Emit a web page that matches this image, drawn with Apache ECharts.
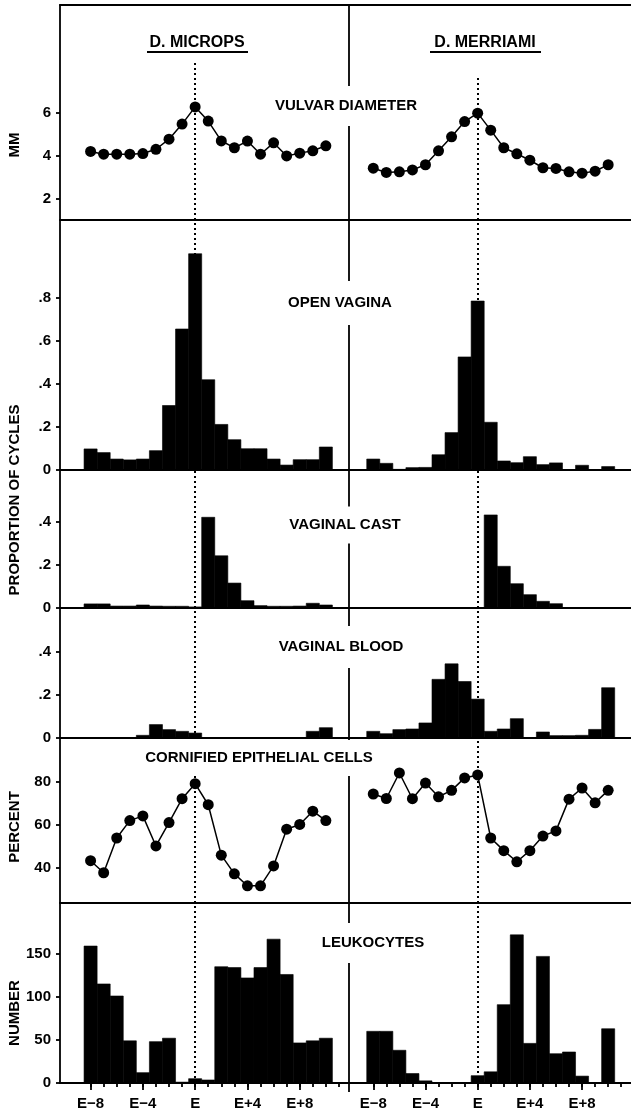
<!DOCTYPE html>
<html><head><meta charset="utf-8">
<script src="https://cdn.jsdelivr.net/npm/echarts@6/dist/echarts.min.js"></script>
<style>html,body{margin:0;padding:0;background:#fff}#c{width:631px;height:1114px}</style>
</head><body><div id="c"></div>
<script>
// ---------- DATA ----------
const days = [-8,-7,-6,-5,-4,-3,-2,-1,0,1,2,3,4,5,6,7,8,9,10];
const xTickDays = [-8,-7,-6,-5,-4,-3,-2,-1,0,1,2,3,4,5,6,7,8,9,10,11];
const xLabelDays = [-8,-4,0,4,8];
const species = ['D. MICROPS','D. MERRIAMI'];
const panelTitles = ['VULVAR DIAMETER','OPEN VAGINA','VAGINAL CAST','VAGINAL BLOOD','CORNIFIED EPITHELIAL CELLS','LEUKOCYTES'];
const axisNames = ['MM','PROPORTION OF CYCLES','PERCENT','NUMBER'];

const vulvarTicks = [2,4,6];
const openTicks = [0,0.2,0.4,0.6,0.8];
const castTicks = [0,0.2,0.4];
const bloodTicks = [0,0.2,0.4];
const cornTicks = [40,60,80];
const leukoTicks = [0,50,100,150];

const vulvarMicrops   = [4.19,4.06,4.06,4.06,4.09,4.29,4.76,5.46,6.26,5.60,4.68,4.36,4.67,4.06,4.59,3.98,4.11,4.22,4.45];
const vulvarMerriami  = [3.41,3.21,3.24,3.33,3.57,4.22,4.87,5.58,5.97,5.18,4.36,4.08,3.78,3.43,3.40,3.24,3.18,3.27,3.57];
const openMicrops     = [0.098,0.081,0.051,0.047,0.051,0.090,0.300,0.656,1.006,0.420,0.212,0.141,0.099,0.099,0.051,0.023,0.048,0.048,0.107];
const openMerriami    = [0.051,0.031,0.003,0.011,0.012,0.071,0.174,0.526,0.786,0.222,0.042,0.034,0.062,0.025,0.033,0,0.022,0,0.016];
const castMicrops     = [0.019,0.019,0.009,0.009,0.014,0.009,0.008,0.008,0.005,0.422,0.243,0.116,0.034,0.011,0.008,0.008,0.009,0.022,0.014];
const castMerriami    = [0,0,0,0,0,0,0,0,0,0.433,0.194,0.113,0.062,0.031,0.020,0,0,0,0];
const bloodMicrops    = [0,0,0,0,0.0125,0.0625,0.039,0.031,0.023,0,0,0,0,0,0,0,0,0.031,0.048];
const bloodMerriami   = [0.031,0.020,0.039,0.042,0.070,0.273,0.345,0.263,0.181,0.031,0.042,0.090,0,0.028,0.011,0.011,0.0125,0.040,0.234];
const cornMicrops     = [43.3,37.7,53.9,62.0,64.2,50.2,61.1,72.2,79.2,69.4,45.9,37.2,31.6,31.6,40.9,58.0,60.2,66.4,62.0];
const cornMerriami    = [74.4,72.3,84.2,72.2,79.5,73.1,76.1,81.9,83.3,53.9,48.0,42.8,48.0,54.8,57.2,72.0,77.2,70.3,76.1];
const leukoMicrops    = [159,115,101,49,12,48,52,1,5,3.5,135,134,122,134,167,126,46.5,49,52];
const leukoMerriami   = [60,60,38,11,2.5,0.5,0.5,0,8.5,13,91,172,46,147,34,36,8,0,63];

// ---------- LAYOUT ----------
const FONT = 'Liberation Sans, Arial, Helvetica, sans-serif';
const cols = [
  {left: 60, width: 289, xmin: -10.34, xmax: 11.77},
  {left: 349, width: 282, xmin: -9.86, xmax: 11.75}
];
const propFmt = v => v === 0 ? '0' : '.' + Math.round(v * 10);
const rows = [
  {top: 5,   h: 215, min: 1,    max: 11,    ticks: vulvarTicks, fmt: v => String(v), kind: 'line', data: [vulvarMicrops, vulvarMerriami], dotTop: [8.3, 7.7]},
  {top: 220, h: 250, min: 0,    max: 1.163, ticks: openTicks,  fmt: propFmt, kind: 'bar', data: [openMicrops, openMerriami]},
  {top: 470, h: 138, min: 0,    max: 0.642, ticks: castTicks,  fmt: propFmt, kind: 'bar', data: [castMicrops, castMerriami]},
  {top: 608, h: 130, min: 0,    max: 0.605, ticks: bloodTicks, fmt: propFmt, kind: 'bar', data: [bloodMicrops, bloodMerriami]},
  {top: 738, h: 165, min: 23.6, max: 100.5, ticks: cornTicks,  fmt: v => String(v), kind: 'line', data: [cornMicrops, cornMerriami]},
  {top: 903, h: 180, min: 0,    max: 209,   ticks: leukoTicks, fmt: v => String(v), kind: 'bar', data: [leukoMicrops, leukoMerriami]}
];

const grid = [], xAxis = [], yAxis = [], series = [];
const lineSt = {color: '#000', width: 1.8};
const xFmt = v => v === 0 ? 'E' : (v < 0 ? 'E\u2212' + (-v) : 'E+' + v);

function barItem(params, api) {
  const x = api.value(0), y = api.value(1);
  const p0 = api.coord([x - 0.5, y]);
  const p1 = api.coord([x + 0.5, 0]);
  return {type: 'rect', shape: {x: p0[0], y: p0[1], width: p1[0] - p0[0], height: p1[1] - p0[1]},
          style: {fill: '#000', stroke: '#000', lineWidth: 0.6}};
}

rows.forEach((r, ri) => {
  cols.forEach((c, ci) => {
    const gi = grid.length;
    grid.push({left: c.left, top: r.top, width: c.width, height: r.h, outerBoundsMode: 'none'});
    const isBottom = ri === rows.length - 1;
    const mainX = xAxis.length;
    xAxis.push({
      type: 'value', gridIndex: gi, min: c.xmin, max: c.xmax, position: 'bottom',
      axisLine: {show: true, onZero: false, lineStyle: lineSt},
      splitLine: {show: false},
      axisTick: isBottom ? {show: true, customValues: xLabelDays, length: 7, lineStyle: lineSt} : {show: false},
      axisLabel: isBottom ? {show: true, customValues: xLabelDays, formatter: xFmt, margin: 13,
        color: '#000', fontSize: 15, fontWeight: 'bold', fontFamily: FONT} : {show: false}
    });
    if (isBottom) {
      xAxis.push({
        type: 'value', gridIndex: gi, min: c.xmin, max: c.xmax, position: 'bottom',
        axisLine: {show: false, onZero: false}, splitLine: {show: false}, axisLabel: {show: false},
        axisTick: {show: true, customValues: xTickDays, length: 4, lineStyle: lineSt}
      });
      if (ci === 1) {
        xAxis.push({
          type: 'value', gridIndex: gi, min: c.xmin, max: c.xmax, position: 'bottom',
          axisLine: {show: false, onZero: false}, splitLine: {show: false}, axisLabel: {show: false},
          axisTick: {show: true, customValues: [c.xmin], length: 9, lineStyle: lineSt}
        });
      }
    }
    if (ri === 0) {
      xAxis.push({
        type: 'value', gridIndex: gi, min: c.xmin, max: c.xmax, position: 'top',
        axisLine: {show: true, onZero: false, lineStyle: lineSt}, splitLine: {show: false},
        axisTick: {show: false}, axisLabel: {show: false}
      });
    }
    const yi = yAxis.length;
    yAxis.push({
      type: 'value', gridIndex: gi, min: r.min, max: r.max, position: 'left',
      axisLine: {show: true, onZero: false, lineStyle: lineSt},
      splitLine: {show: false},
      axisTick: ci === 0 ? {show: true, customValues: r.ticks, length: 4, lineStyle: lineSt} : {show: false},
      axisLabel: ci === 0 ? {show: true, customValues: r.ticks, formatter: r.fmt, margin: 9,
        color: '#000', fontSize: 15, fontWeight: 'bold', fontFamily: FONT} : {show: false}
    });
    const pts = days.map((d, i) => [d, r.data[ci][i]]);
    const markLine = {
      silent: true, symbol: ['none', 'none'], label: {show: false}, animation: false,
      lineStyle: {color: '#000', width: 2, type: [2, 3], opacity: 1},
      emphasis: {disabled: true},
      data: r.dotTop ? [[{coord: [0, r.min]}, {coord: [0, r.dotTop[ci]]}]] : [{xAxis: 0}]
    };
    if (r.kind === 'line') {
      series.push({
        type: 'line', xAxisIndex: mainX, yAxisIndex: yi, data: pts,
        symbol: 'circle', symbolSize: 11, showSymbol: true,
        itemStyle: {color: '#000'}, lineStyle: {color: '#000', width: 1.5},
        markLine, z: 3
      });
    } else {
      series.push({
        type: 'custom', xAxisIndex: mainX, yAxisIndex: yi, data: pts,
        encode: {x: 0, y: 1}, renderItem: barItem, markLine, z: 3
      });
    }
  });
});

// ---------- TEXT ----------
const titlePos = [[346, 106, [16, 5, 9, 5]], [340, 303, [20, 5, 9, 5]], [345, 525, [12, 5, 10, 5]],
                  [341, 647, [19, 5, 8, 5]], [259, 758, [10, 5, 11, 5]], [373, 943, [13, 5, 12, 5]]];
const graphic = [];
panelTitles.forEach((t, i) => {
  graphic.push({type: 'text', x: titlePos[i][0], y: titlePos[i][1], z: 100,
    style: {text: t, align: 'center', verticalAlign: 'middle', font: 'bold 15px ' + FONT, fill: '#000',
      backgroundColor: '#fff', padding: titlePos[i][2]}});
});
const spPos = [[197, 43, 147, 248], [485, 43, 430, 541]];
species.forEach((s, i) => {
  graphic.push({type: 'text', x: spPos[i][0], y: spPos[i][1], z: 100,
    style: {text: s, align: 'center', verticalAlign: 'middle', font: 'bold 16px ' + FONT, fill: '#000'}});
  graphic.push({type: 'line', z: 100, shape: {x1: spPos[i][2], y1: 52, x2: spPos[i][3], y2: 52},
    style: {stroke: '#000', lineWidth: 1.8}});
});
const anPos = [[15, 145], [15, 500], [15, 827], [15, 1013]];
axisNames.forEach((n, i) => {
  graphic.push({type: 'text', x: anPos[i][0], y: anPos[i][1], rotation: Math.PI / 2, z: 100,
    style: {text: n, align: 'center', verticalAlign: 'middle', font: 'bold 15px ' + FONT, fill: '#000'}});
});

const chart = echarts.init(document.getElementById('c'), null, {renderer: 'canvas'});
chart.setOption({animation: false, backgroundColor: '#fff', grid, xAxis, yAxis, series, graphic});
</script></body></html>
